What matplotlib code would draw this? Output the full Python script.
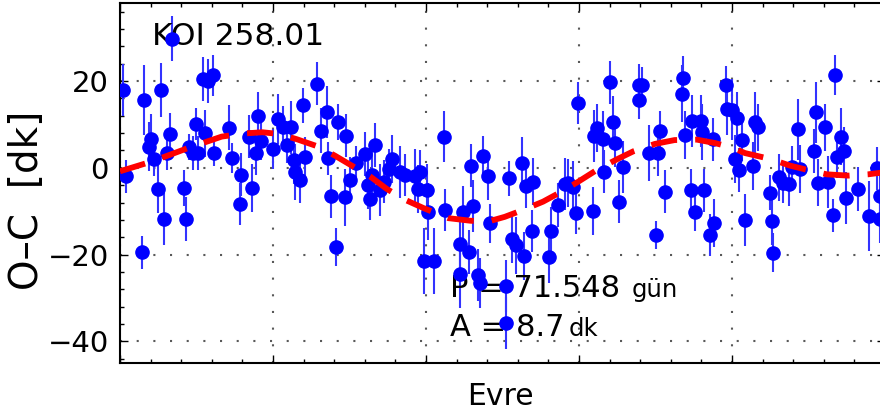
import numpy as np
import matplotlib
matplotlib.use("Agg")
import matplotlib.pyplot as plt
from matplotlib.ticker import MultipleLocator, NullFormatter

plt.rcParams['font.family'] = ['DejaVu Sans']

# -----------------------------
# DATA
# -----------------------------
phase = [0.004, 0.008, 0.029, 0.032, 0.038, 0.041, 0.044, 0.050, 0.053, 0.057,
         0.062, 0.065, 0.068, 0.084, 0.086, 0.090, 0.096, 0.099, 0.102, 0.108,
         0.111, 0.115, 0.121, 0.123, 0.142, 0.147, 0.158, 0.157, 0.172, 0.169,
         0.178, 0.181, 0.184, 0.200, 0.206, 0.213, 0.218, 0.224, 0.227, 0.229,
         0.235, 0.239, 0.242, 0.258, 0.263, 0.270, 0.272, 0.276, 0.282, 0.285,
         0.294, 0.296, 0.300, 0.309, 0.324, 0.327, 0.320, 0.329, 0.333, 0.340,
         0.345, 0.352, 0.355, 0.366, 0.373, 0.386, 0.389, 0.392, 0.398, 0.401,
         0.403, 0.411, 0.423, 0.425, 0.444, 0.444, 0.449, 0.456, 0.459, 0.462,
         0.468, 0.471, 0.474, 0.481, 0.484, 0.504, 0.504, 0.508, 0.513, 0.518,
         0.526, 0.528, 0.531, 0.538, 0.540, 0.561, 0.563, 0.573, 0.582, 0.586,
         0.592, 0.596, 0.599, 0.618, 0.619, 0.623, 0.631, 0.633, 0.641, 0.645,
         0.647, 0.652, 0.657, 0.678, 0.682, 0.678, 0.691, 0.700, 0.703, 0.706,
         0.712, 0.734, 0.736, 0.739, 0.746, 0.748, 0.752, 0.759, 0.761, 0.764,
         0.771, 0.775, 0.777, 0.792, 0.794, 0.800, 0.804, 0.806, 0.809, 0.813,
         0.817, 0.828, 0.830, 0.834, 0.850, 0.852, 0.854, 0.862, 0.867, 0.875,
         0.879, 0.886, 0.889, 0.907, 0.910, 0.912, 0.922, 0.925, 0.932, 0.935,
         0.937, 0.943, 0.947, 0.949, 0.965, 0.979, 0.989, 0.993, 0.994]

oc = [18.0, -2.0, -19.5, 15.6, 4.9, 6.6, 2.0, -4.9, 17.9, -11.8,
      3.4, 7.9, 29.8, -4.7, -11.8, 4.9, 3.4, 10.1, 3.4, 20.5,
      8.0, 20.0, 21.3, 3.4, 9.2, 2.2, -1.6, -8.4, -4.7, 7.2,
      3.5, 12.0, 6.2, 4.3, 11.3, 9.3, 5.2, 9.3, 1.8, -0.9,
      -2.8, 14.4, 2.6, 19.4, 8.6, 12.8, 2.2, -6.6, -18.2, 10.5,
      -6.8, 7.4, -2.8, 1.1, -3.9, -7.2, 3.2, -1.6, 5.3, -5.1,
      -3.2, -0.3, 2.1, -1.0, -1.6, -2.0, -4.9, -0.9, -21.5, -5.1,
      -10.1, -21.5, 7.2, -9.7, -17.6, -24.4, -10.3, -19.4, 0.5, -8.9,
      -24.7, -26.5, 2.8, -2.0, -12.8, -27.2, -35.8, -2.4, -16.5, -17.9,
      1.2, -20.4, -4.3, -14.5, -3.2, -20.5, -14.5, -8.6, -3.8, -3.5,
      -4.5, -10.4, 15.0, -9.9, 7.4, 9.2, 6.6, -0.9, 19.7, 10.5,
      5.7, -7.8, 0.2, 19.0, 19.0, 15.7, 3.4, -15.5, 3.5, 8.6,
      -5.5, 17.1, 20.6, 7.6, -5.2, 10.7, -10.1, 10.9, 8.2, -5.2,
      -15.5, 6.6, -12.8, 19.0, 13.6, 13.4, 2.0, 11.5, -0.5, 6.5,
      -12.0, 0.5, 10.5, 9.3, -5.7, -12.3, -19.6, -2.2, -3.5, -3.8,
      0.1, 8.9, -0.2, 3.9, 12.8, -3.4, 9.3, -3.2, -10.9, 21.5,
      2.6, 7.2, 3.9, -7.0, -4.9, -11.1, -0.1, -6.5, -11.9]

err = [6.0, 3.8, 3.8, 8.0, 5.7, 5.7, 4.0, 5.5, 6.2, 6.0,
       3.8, 4.8, 5.2, 4.2, 5.0, 3.0, 4.0, 3.8, 4.0, 5.0,
       5.4, 5.0, 4.8, 3.0, 5.2, 3.5, 5.0, 4.8, 5.5, 5.0,
       5.2, 5.4, 4.5, 4.6, 5.8, 5.0, 4.2, 6.0, 5.5, 6.5,
       5.4, 4.0, 4.5, 5.0, 5.2, 6.0, 3.8, 5.0, 4.4, 4.2,
       6.5, 5.0, 5.4, 4.0, 5.5, 4.8, 5.0, 6.2, 5.0, 6.0,
       5.0, 4.6, 5.5, 6.0, 4.8, 6.4, 5.5, 5.0, 7.7, 6.0,
       6.5, 7.7, 5.8, 4.8, 5.5, 8.0, 6.0, 5.0, 5.0, 6.0,
       6.0, 5.8, 4.6, 5.5, 4.5, 6.0, 6.0, 4.0, 5.5, 6.5,
       6.0, 5.5, 5.0, 4.8, 5.4, 6.0, 5.5, 5.0, 6.0, 5.5,
       6.0, 4.8, 4.8, 5.5, 6.0, 5.5, 6.5, 5.0, 5.0, 6.0,
       5.5, 5.0, 6.0, 5.0, 4.2, 4.5, 6.5, 3.2, 5.5, 4.5,
       5.0, 6.5, 5.2, 5.5, 5.0, 6.0, 4.5, 6.0, 6.5, 5.0,
       4.8, 5.0, 5.5, 4.5, 6.0, 7.0, 5.5, 6.0, 5.0, 5.0,
       6.0, 5.5, 7.0, 5.5, 4.0, 5.5, 4.5, 5.5, 4.5, 5.0,
       5.0, 7.0, 5.5, 5.0, 7.0, 5.5, 5.5, 6.0, 3.8, 4.6,
       5.0, 6.5, 5.5, 6.0, 5.0, 8.0, 5.0, 5.0, 5.5]

# fitted curve
fit_phase = [0.0, 0.035, 0.059, 0.088, 0.108, 0.133, 0.161, 0.186, 0.208, 0.231,
             0.259, 0.281, 0.303, 0.327, 0.349, 0.373, 0.397, 0.429, 0.458, 0.481,
             0.503, 0.527, 0.553, 0.575, 0.599, 0.625, 0.650, 0.671, 0.699, 0.725,
             0.754, 0.778, 0.801, 0.817, 0.851, 0.876, 0.899, 0.924, 0.952, 0.978, 1.0]
fit_oc = [-0.8, 1.1, 2.6, 4.5, 5.7, 7.2, 7.9, 8.2, 7.8, 6.6,
          4.9, 2.8, 0.5, -2.0, -4.9, -7.4, -9.3, -11.6, -12.2, -12.4,
          -11.3, -9.7, -7.8, -5.7, -3.2, -0.3, 2.0, 3.8, 5.5, 6.4,
          6.5, 5.7, 4.6, 3.4, 2.0, 0.5, -0.5, -1.5, -1.8, -1.5, -1.0]

# -----------------------------
# PLOT
# -----------------------------
fig = plt.figure(figsize=(8.8, 4.2), dpi=100)
ax = fig.add_axes([120 / 880, 57 / 420, 765 / 880, 360 / 420])

ax.errorbar(phase, oc, yerr=err, fmt='o', color='#0000ff', ecolor='#3333ff',
            elinewidth=1.5, capsize=0, markersize=9.5, zorder=3)
ax.plot(fit_phase, fit_oc, color='#ff0000', linewidth=4.2,
        dashes=(4.5, 3.1), dash_capstyle='butt', zorder=4)

ax.set_xlim(0, 1)
ax.set_ylim(-45, 38)

ax.xaxis.set_major_locator(MultipleLocator(0.2))
ax.xaxis.set_minor_locator(MultipleLocator(0.04))
ax.xaxis.set_major_formatter(NullFormatter())
ax.yaxis.set_major_locator(MultipleLocator(20))
ax.yaxis.set_minor_locator(MultipleLocator(4))

ax.tick_params(which='both', direction='in', top=True, right=True, width=1.0)
ax.tick_params(which='major', length=6)
ax.tick_params(which='minor', length=3)
ax.tick_params(axis='y', labelsize=21, pad=8)

for s in ax.spines.values():
    s.set_linewidth(1.5)

ax.grid(True, which='major', linestyle=(0, (1, 7)), linewidth=1.5, color='0.35')

# labels
fig.text(27 / 880, (420 - 200) / 420, 'O–C  [dk]', rotation=90,
         ha='center', va='center', fontsize=28)
fig.text(500 / 880, (420 - 405) / 420, 'Evre', ha='center', va='baseline',
         fontsize=21.5)

ax.text(0.042, 28.4, 'KOI 258.01', fontsize=22.5, va='baseline')
ax.text(0.431, -29.8, 'P = 71.548', fontsize=22, va='baseline')
ax.text(0.669, -29.8, 'gün', fontsize=17.5, va='baseline')
ax.text(0.431, -38.8, 'A = 8.7', fontsize=22, va='baseline')
ax.text(0.586, -38.8, 'dk', fontsize=17.5, va='baseline')

plt.savefig('out.png', dpi=100)
plt.close()
